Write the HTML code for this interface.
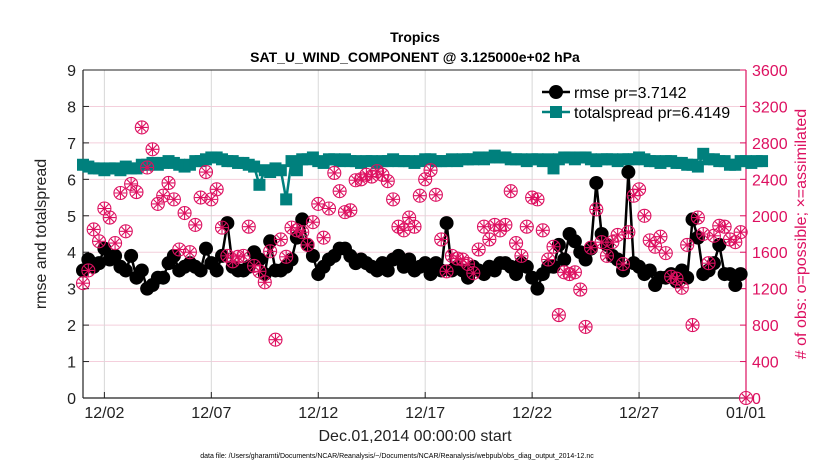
<!DOCTYPE html>
<html><head><meta charset="utf-8"><style>
body{margin:0;background:#fff;}
svg{display:block;font-family:"Liberation Sans",sans-serif;}
</style></head><body>
<svg id="c" width="830" height="470"></svg>
<script>
const dayTicks=["12/02","12/07","12/12","12/17","12/22","12/27","01/01"];
const dayTickPos=[1,6,11,16,21,26,31];
const leftTicks=[0,1,2,3,4,5,6,7,8,9];
const rightTicks=[0,400,800,1200,1600,2000,2400,2800,3200,3600];
const rmse=[3.5,3.8,3.6,3.7, 4.1,3.8,3.9,3.6, 3.5,3.9,3.3,3.5, 3.0,3.1,3.3,3.3, 3.7,3.9,3.5,3.6, 3.7,3.6,3.5,4.1, 3.7,3.5,3.9,4.8, 3.6,3.5,3.5,3.6, 4.0,3.8,3.4,4.3, 3.5,3.5,3.6,3.8, 4.4,4.9,4.2,3.9, 3.4,3.6,3.8,3.9, 4.1,4.1,3.9,3.7, 3.8,3.7,3.6,3.5, 3.7,3.5,3.8,3.9, 3.6,3.8,3.5,3.6, 3.7,3.4,3.7,3.5, 4.8,3.5,3.6,3.5, 3.3,3.6,3.5,3.4, 3.6,3.5,3.7,3.7, 3.6,3.4,3.7,3.6, 3.3,3.0,3.4,3.6, 3.6,4.2,3.8,4.5, 4.3,4.0,3.8,4.1, 5.9,4.5,4.2,3.9, 3.8,3.5,6.2,3.7, 3.6,3.4,3.5,3.1, 3.3,3.3,3.4,3.2, 3.5,3.3,4.9,4.4, 3.4,3.5,3.7,4.2, 3.4,3.4,3.1,3.4];
const spread=[6.4,6.35,6.3,6.3, 6.25,6.3,6.3,6.25, 6.35,6.3,6.3,6.4, 6.4,6.45,6.4,6.45, 6.5,6.45,6.4,6.35, 6.4,6.5,6.5,6.55, 6.6,6.6,6.55,6.5, 6.5,6.45,6.45,6.4, 6.35,5.85,6.25,6.2, 6.3,6.25,5.45,6.5, 6.25,6.55,6.55,6.6, 6.5,6.45,6.55,6.55, 6.5,6.55,6.5,6.5, 6.45,6.5,6.5,6.45, 6.5,6.5,6.55,6.5, 6.5,6.5,6.45,6.5, 6.55,6.55,6.5,6.5, 6.5,6.55,6.5,6.55, 6.55,6.55,6.6,6.55, 6.6,6.65,6.6,6.6, 6.55,6.55,6.55,6.5, 6.55,6.55,6.5,6.55, 6.3,6.55,6.6,6.6, 6.55,6.6,6.6,6.55, 6.5,6.55,6.55,6.55, 6.5,6.55,6.55,6.55, 6.6,6.55,6.5,6.5, 6.45,6.5,6.5,6.45, 6.45,6.4,6.4,6.35, 6.7,6.55,6.55,6.5, 6.5,6.4,6.4,6.5, 6.5,6.45,6.5,6.5];
const obs=[1260,1400,1850,1720, 2080,1980,1700,2250, 1830,2350,2260,2970, 2530,2730,2130,2220, 2360,2180,1630,2030, 1600,1900,2200,2480, 2180,2290,1870,1560, 1500,1550,1560,1880, 1450,1390,1270,1610, 640,1740,1550,1870, 1840,1820,1680,1930, 2130,1760,2080,2470, 2270,2040,2060,2390, 2400,2450,2430,2490, 2450,2380,2180,1880, 1840,1980,1880,2220, 2400,2500,2230,1740, 1390,1560,1530,1520, 1470,1370,1630,1880, 1740,1900,1840,1900, 2270,1700,1560,1880, 2200,2180,1840,1520, 1660,910,1380,1360, 1380,1190,780,1650, 2070,1710,1560,1710, 1790,1470,1820,2220, 2290,2000,1730,1660, 1770,1590,1330,1310, 1210,1680,800,1980, 1800,1480,1780,1890, 1880,1740,1710,1820, 0];
const L=83,R=746,T=70,B=398,PINK="#dd1060",TEAL="#00807d";
const X=d=>L+d/31*(R-L);
const Y=v=>B-v/9*(B-T);
const YR=v=>B-v/3600*(B-T);
const svg=document.getElementById('c');
const NS="http://www.w3.org/2000/svg";
function mk(tag,at,parent){const e=document.createElementNS(NS,tag);for(const k in at)e.setAttribute(k,at[k]);(parent||svg).appendChild(e);return e;}
leftTicks.forEach(v=>{const g=mk('line',{x1:L,x2:R,y1:Y(v),y2:Y(v),stroke:'#f4cfdc','stroke-width':1});

});
dayTickPos.forEach(d=>{const g=mk('line',{x1:X(d),x2:X(d),y1:T,y2:B,stroke:'#d8d8d8','stroke-width':1});

});
mk('line',{x1:L,x2:L,y1:T,y2:B,stroke:'#222','stroke-width':1.2});
mk('line',{x1:L,x2:R,y1:T,y2:T,stroke:'#222','stroke-width':1});
mk('line',{x1:L,x2:R,y1:B,y2:B,stroke:'#222','stroke-width':1.2});
mk('line',{x1:R,x2:R,y1:T,y2:B,stroke:PINK,'stroke-width':1.2});
leftTicks.forEach(v=>{mk('line',{x1:L,x2:L+6,y1:Y(v),y2:Y(v),stroke:'#222'});
const t=mk('text',{x:L-7,y:Y(v)+6,'text-anchor':'end','font-size':16,fill:'#222'});t.textContent=v;

});
rightTicks.forEach(v=>{mk('line',{x1:R-6,x2:R,y1:YR(v),y2:YR(v),stroke:PINK});
const t=mk('text',{x:R+6,y:YR(v)+6,'font-size':16,fill:PINK});t.textContent=v;

});
dayTickPos.forEach((d,i)=>{mk('line',{x1:X(d),x2:X(d),y1:B,y2:B-6,stroke:'#222'});
const t=mk('text',{x:X(d),y:B+20,'text-anchor':'middle','font-size':16,fill:'#222'});t.textContent=dayTicks[i];

});
let p=spread.map((v,i)=>X(i*0.25).toFixed(1)+','+Y(v).toFixed(1)).join(' ');
const sl=mk('polyline',{points:p,fill:'none',stroke:TEAL,'stroke-width':2.5});


spread.forEach((v,i)=>{const r=mk('rect',{x:X(i*0.25)-6,y:Y(v)-6,width:12,height:12,fill:TEAL});

});
p=rmse.map((v,i)=>X(i*0.25).toFixed(1)+','+Y(v).toFixed(1)).join(' ');
const rl=mk('polyline',{points:p,fill:'none',stroke:'#000','stroke-width':2.5});


rmse.forEach((v,i)=>{const c=mk('circle',{cx:X(i*0.25),cy:Y(v),r:7,fill:'#000'});

});
obs.forEach((v,i)=>{const x=X(i*0.25),y=YR(v);
const g=mk('g',{stroke:PINK,'stroke-width':1.1,fill:'none'});


mk('circle',{cx:x,cy:y,r:6.5},g);
mk('path',{d:`M${x-6} ${y}H${x+6}M${x} ${y-6}V${y+6}M${x-4.2} ${y-4.2}L${x+4.2} ${y+4.2}M${x-4.2} ${y+4.2}L${x+4.2} ${y-4.2}`},g);});
const lg=mk('g',{});


mk('line',{x1:542,x2:570,y1:92,y2:92,stroke:'#000','stroke-width':2.5},lg);
mk('circle',{cx:556,cy:92,r:7,fill:'#000'},lg);
let t=mk('text',{x:574,y:98,'font-size':16,fill:'#000'},lg);t.textContent='rmse pr=3.7142';
mk('line',{x1:542,x2:570,y1:112,y2:112,stroke:TEAL,'stroke-width':2.5},lg);
mk('rect',{x:550,y:106,width:12,height:12,fill:TEAL},lg);
t=mk('text',{x:574,y:118,'font-size':16,fill:'#000'},lg);t.textContent='totalspread pr=6.4149';
function txt(s,at,name){const e=mk('text',at);e.textContent=s;

return e;}
txt('Tropics',{x:415,y:42,'text-anchor':'middle','font-size':14,'font-weight':'bold',fill:'#000'},'chart-title');
txt('SAT_U_WIND_COMPONENT @ 3.125000e+02 hPa',{x:415,y:62,'text-anchor':'middle','font-size':14,'font-weight':'bold',fill:'#000'},'chart-subtitle');
txt('Dec.01,2014 00:00:00 start',{x:415,y:441,'text-anchor':'middle','font-size':16,fill:'#222'},'x-axis-title');
txt('rmse and totalspread',{x:0,y:0,transform:'translate(46,234) rotate(-90)','text-anchor':'middle','font-size':16,fill:'#222'},'y-axis-title');
txt('# of obs: o=possible; \u00d7=assimilated',{x:0,y:0,transform:'translate(806,234) rotate(-90)','text-anchor':'middle','font-size':16,fill:PINK},'y2-axis-title');
txt('data file: /Users/gharamti/Documents/NCAR/Reanalysis/~/Documents/NCAR/Reanalysis/webpub/obs_diag_output_2014-12.nc',{x:397,y:458,'text-anchor':'middle','font-size':7,fill:'#000'},'footnote');
</script>
</body></html>
